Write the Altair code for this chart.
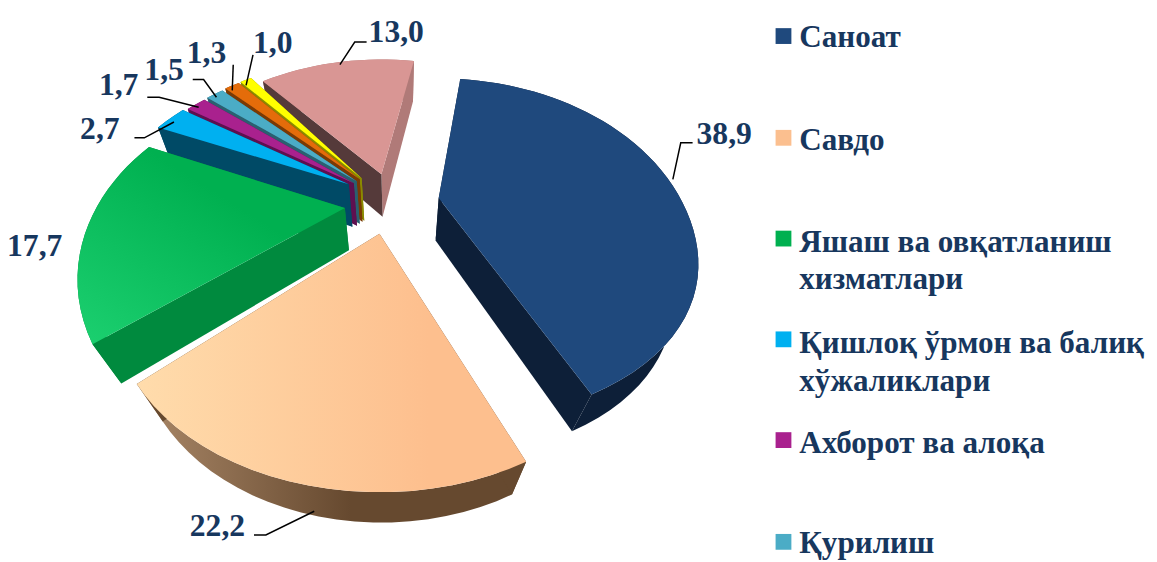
import math
import altair as alt
import pandas as pd

values = [38.9, 22.2, 17.7, 2.7, 1.7, 1.5, 1.3, 1.0, 13.0]
labels = ["38,9", "22,2", "17,7", "2,7", "1,7", "1,5", "1,3", "1,0", "13,0"]
tops = ["#1F497D", "G_PEACH", "G_GREEN", "#00B0F0", "#A9218E", "#4BACC6", "#E46C0A", "#FFFF00", "#D99694"]
radials = ["#0D1F38", "#66492F", "#008A3E", "#004A66", "#5E1050", "#2A6070", "#7A3A05", "#8A8A00", "#553A3A"]
rims = ["#0D1F38", "G_RIM", "#008A3E", "#004A66", "#5E1050", "#2A6070", "#7A3A05", "#8A8A00", "#B07A78"]
apex_x = [438, 378, 343, 347, 352, 355, 358, 360, 380]
apex_y = [197, 233, 207, 183, 182, 180, 178, 177, 173]
adj_start = [-3, 7, 1.5, 0, 0, 0, 0, 0, -4]
adj_end = [5, -3, 1, 0, 0, 0, 0, 0, 1]
radius_scale = [1.01, 1.04, 1.04, 1, 1, 1, 1, 1, 0.97]
front_scale = [0.87, 0.97, 1, 1, 1, 1, 1, 1, 1]
draw_order = [8, 7, 6, 5, 4, 3, 2, 0, 1]

label_x = [727, 214, 29, 95, 114, 160, 203, 270, 395]
label_y = [142, 539, 256, 137, 93, 77, 60, 50, 39]

leaders = [
    [(675, 178), (683, 141), (695, 141)],
    [(312, 514), (263, 538), (251, 538)],
    [(170, 120), (140, 136), (130, 136)],
    [(195, 105), (155, 95), (143, 95)],
    [(213, 95), (200, 77), (189, 77)],
    [(229, 88), (230, 62)],
    [(243, 83), (250, 52)],
    [(338, 62), (353, 39), (365, 39)],
]

legend_names = ["Саноат", "Савдо", "Яшаш ва овқатланиш", "Қишлоқ ўрмон ва балиқ", "Ахборот ва алоқа", "Қурилиш"]
legend_second = ["", "", "хизматлари", "хўжаликлари", "", ""]
legend_colors = ["#1F497D", "#FBBF8F", "#00B050", "#00B0F0", "#A9218E", "#4BACC6"]
legend_sq_y = [33, 136, 238, 340, 442, 545]
legend_base = [44, 148, 252, 354, 455, 556]
legend_base2 = [0, 0, 289, 392, 0, 0]
legend_sq_x = 787
legend_text_x = 803

W, H = 1155, 554
X0 = 2
START = 10.0
A, B, K = 242.0, 164.0, 0.368
VPX, VPY = 396.0, 765.0
NAVY = "#17375E"

xs = alt.Scale(domain=[X0, X0 + W], range=[0, W], nice=False, zero=False)
ys = alt.Scale(domain=[8, 8 + H], range=[0, H], nice=False, zero=False)
X = lambda f="x": alt.X(f"{f}:Q", scale=xs, axis=None)
Y = lambda f="y": alt.Y(f"{f}:Q", scale=ys, axis=None)

G = {
    "G_PEACH": alt.Gradient(gradient="linear", x1=0, y1=0, x2=1, y2=0,
                            stops=[alt.GradientStop(color="#FFDCAC", offset=0),
                                   alt.GradientStop(color="#FDBF8E", offset=0.75),
                                   alt.GradientStop(color="#FDBF8E", offset=1)]),
    "G_GREEN": alt.Gradient(gradient="linear", x1=0, y1=1, x2=0.6, y2=0.3,
                            stops=[alt.GradientStop(color="#1CD070", offset=0),
                                   alt.GradientStop(color="#00B050", offset=1)]),
    "G_RIM": alt.Gradient(gradient="linear", x1=0, y1=0, x2=1, y2=0,
                          stops=[alt.GradientStop(color="#AA8868", offset=0),
                                 alt.GradientStop(color="#66492F", offset=0.55),
                                 alt.GradientStop(color="#66492F", offset=1)]),
}


def project(idx, deg):
    a = math.radians(deg)
    u, v = math.sin(a), -math.cos(a)
    w = 1 - K * v
    r = radius_scale[idx]
    front = 1 - (1 - front_scale[idx]) * max(v, 0)
    return apex_x[idx] + r * A * u / w, apex_y[idx] + r * front * B * v / w


def drop(p):
    t = 0.076 + (p[1] - 200) * 0.000128
    return p[0] + t * (VPX - p[0]), p[1] + t * (VPY - p[1])


def poly(points, fill):
    closed = points + [points[0]]
    df = pd.DataFrame({"x": [p[0] for p in closed], "y": [p[1] for p in closed],
                       "i": range(len(closed))})
    f = G.get(fill, fill)
    return alt.Chart(df).mark_line(fill=f, strokeWidth=0, interpolate="linear").encode(
        x=X(), y=Y(), order="i:Q")


angles = [START]
for val in values:
    angles.append(angles[-1] + val * 3.6)

layers = []
for idx in draw_order:
    apex = (apex_x[idx], apex_y[idx])
    a0, a1 = angles[idx] + adj_start[idx], angles[idx + 1] + adj_end[idx]
    n = max(3, int((a1 - a0) / 3))
    arc = [project(idx, a0 + (a1 - a0) * j / n) for j in range(n + 1)]
    end_color = "#B07A78" if idx == 8 else radials[idx]
    layers.append(poly(arc + [drop(p) for p in reversed(arc)], rims[idx]))
    layers.append(poly([apex, arc[-1], drop(arc[-1]), drop(apex)], end_color))
    layers.append(poly([apex, arc[0], drop(arc[0]), drop(apex)], radials[idx]))
    layers.append(poly([apex] + arc, tops[idx]))

for path in leaders:
    df = pd.DataFrame({"x": [p[0] for p in path], "y": [p[1] for p in path], "i": range(len(path))})
    layers.append(alt.Chart(df).mark_line(color="black", strokeWidth=1.5).encode(x=X(), y=Y(), order="i:Q"))

lab = pd.DataFrame({"x": label_x, "y": label_y, "t": labels})
layers.append(alt.Chart(lab).mark_text(font="Liberation Serif", fontWeight="bold", fontSize=32,
                                       color=NAVY, align="center", baseline="alphabetic").encode(
    x=X(), y=Y(), text="t:N"))

sq = pd.DataFrame({"x": [legend_sq_x] * 6, "y": legend_sq_y, "c": legend_colors})
layers.append(alt.Chart(sq).mark_square(size=256, opacity=1).encode(
    x=X(), y=Y(), color=alt.Color("c:N", scale=None)))

rows = [(legend_text_x, b, t) for b, t in zip(legend_base, legend_names)] + \
       [(legend_text_x, b, t) for b, t in zip(legend_base2, legend_second) if t]
leg = pd.DataFrame(rows, columns=["x", "y", "t"])
layers.append(alt.Chart(leg).mark_text(font="Liberation Serif", fontWeight="bold", fontSize=31.5,
                                       color=NAVY, align="left", baseline="alphabetic").encode(
    x=X(), y=Y(), text="t:N"))

chart = alt.layer(*layers).properties(width=W, height=H, padding=0, autosize=alt.AutoSizeParams(type="none")).configure_view(stroke=None)
chart.save("out.html", embed_options={"renderer": "svg", "actions": False})
